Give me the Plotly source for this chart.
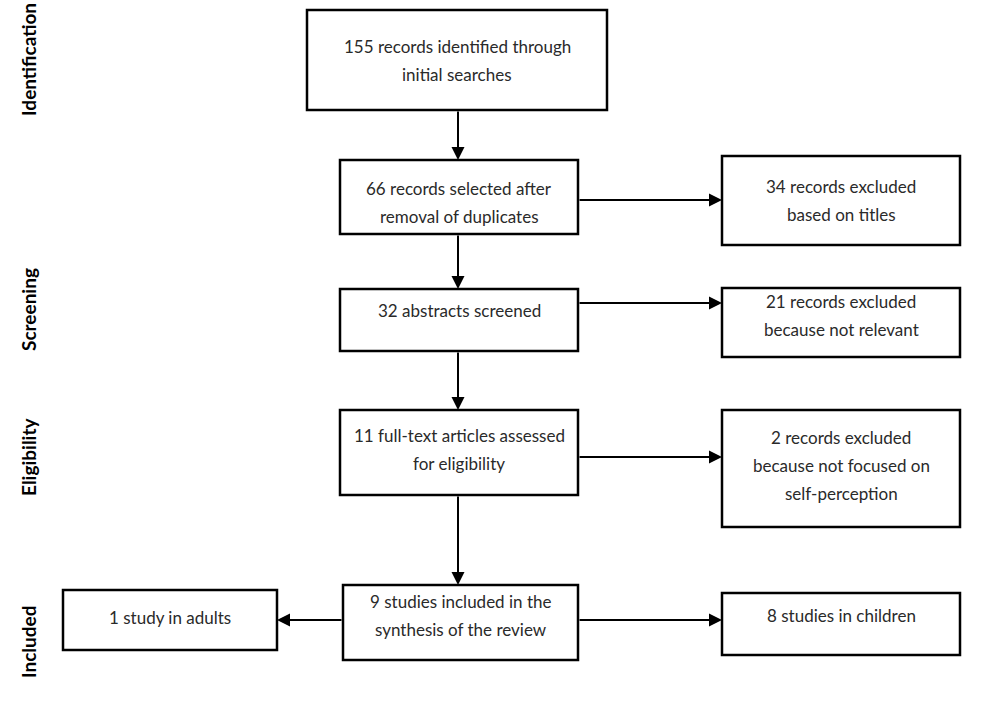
import plotly.graph_objects as go

# ---- data (flow diagram content) ----
stage_labels = ["Identification", "Screening", "Eligibility", "Included"]
main_counts = [155, 66, 32, 11, 9]
main_texts = [["records identified through", "initial searches"],
              ["records selected after", "removal of duplicates"],
              ["abstracts screened"],
              ["full-text articles assessed", "for eligibility"],
              ["studies included in the", "synthesis of the review"]]
excl_counts = [34, 21, 2]
excl_texts = [["records excluded", "based on titles"],
              ["records excluded", "because not relevant"],
              ["records excluded", "because not focused on", "self-perception"]]
split_counts = [1, 8]
split_texts = [["study in adults"], ["studies in children"]]

# ---- layout geometry (pixels) ----
W, H = 982, 703
main_boxes = [(307, 607, 10, 110), (340, 578, 160, 234), (340, 578, 289, 351),
              (340, 578, 410, 495), (343, 578, 585, 660)]
main_text_y = [46, 188, 310, 435, 601]
excl_boxes = [(722, 960, 156, 245), (722, 960, 288, 357), (722, 960, 410, 527)]
excl_text_y = [186, 301, 437]
split_boxes = [(63, 277, 590, 650), (722, 960, 593, 655)]
split_text_y = [617, 615]
stage_y = [60, 310, 457, 642]
LINE = 28

fig = go.Figure()
FONT = "Lato"
shapes, ann = [], []

def box(b, lines, ty):
    x0, x1, y0, y1 = b
    shapes.append(dict(type="rect", x0=x0, x1=x1, y0=y0, y1=y1, xref="x", yref="y",
                       line=dict(color="black", width=2.5), fillcolor="white", layer="below"))
    for k, ln in enumerate(lines):
        ann.append(dict(x=(x0 + x1) / 2, y=ty + k * LINE, xref="x", yref="y", text=ln,
                        showarrow=False, yanchor="middle",
                        font=dict(family=FONT, size=17, color="#2a2a2a"), align="center"))

def arrow(x0, y0, x1, y1):
    ann.append(dict(x=x1, y=y1, ax=x0, ay=y0, xref="x", yref="y", axref="x", ayref="y",
                    text="", showarrow=True, arrowhead=2, arrowsize=1.3, arrowwidth=2,
                    arrowcolor="black", standoff=0))

for c, t, b, ty in zip(main_counts, main_texts, main_boxes, main_text_y):
    box(b, [f"{c} {t[0]}"] + t[1:], ty)
for c, t, b, ty in zip(excl_counts, excl_texts, excl_boxes, excl_text_y):
    box(b, [f"{c} {t[0]}"] + t[1:], ty)
for c, t, b, ty in zip(split_counts, split_texts, split_boxes, split_text_y):
    box(b, [f"{c} {t[0]}"] + t[1:], ty)

# vertical arrows between main boxes
for a, b in zip(main_boxes[:-1], main_boxes[1:]):
    xc = 458
    arrow(xc, a[3], xc, b[2])
# horizontal arrows to exclusion boxes
for mb, eb, yy in zip(main_boxes[1:4], excl_boxes, [200, 303, 457]):
    arrow(mb[1], yy, eb[0], yy)
# split arrows
arrow(main_boxes[4][0], 620, split_boxes[0][1], 620)
arrow(main_boxes[4][1], 620, split_boxes[1][0], 620)

for lab, yy in zip(stage_labels, stage_y):
    ann.append(dict(x=28, y=yy, xref="x", yref="y", text=f"<b>{lab}</b>", showarrow=False,
                    textangle=-90, font=dict(family=FONT, size=19, color="black")))

fig.update_layout(width=W, height=H, margin=dict(l=0, r=0, t=0, b=0),
                  paper_bgcolor="white", plot_bgcolor="white",
                  shapes=shapes, annotations=ann, showlegend=False,
                  xaxis=dict(range=[0, W], visible=False, fixedrange=True),
                  yaxis=dict(range=[H, 0], visible=False, fixedrange=True))
fig.write_html("out.html", config={"displayModeBar": False},
               post_script="document.body.style.margin='0px';document.body.style.overflow='hidden';")
